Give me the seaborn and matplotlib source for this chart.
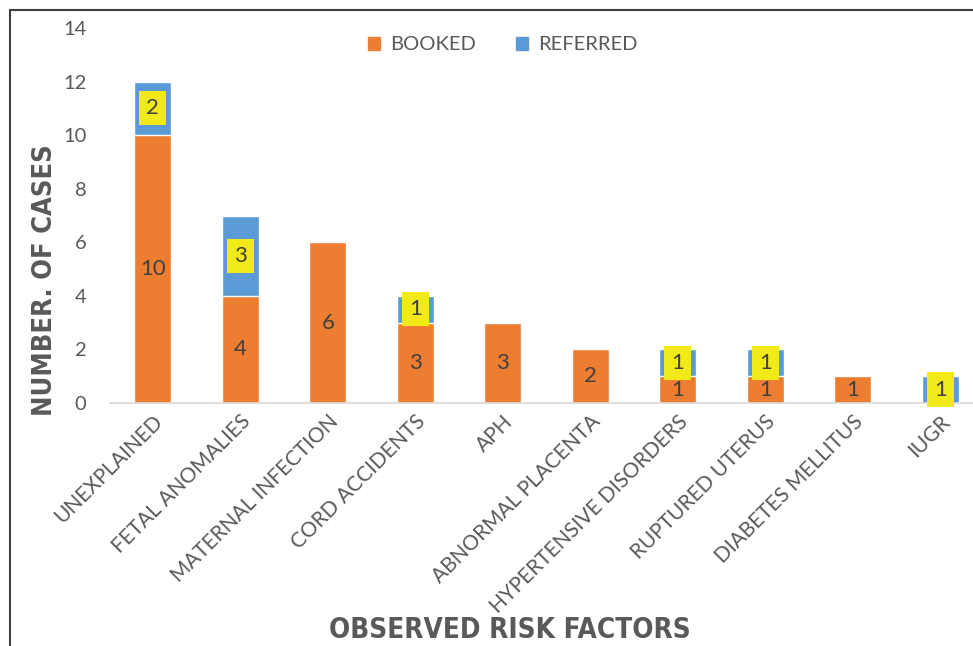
import numpy as np
import pandas as pd
import seaborn as sns
import matplotlib.pyplot as plt
from matplotlib.patches import Rectangle, Patch

# Data
factors = ['UNEXPLAINED', 'FETAL ANOMALIES', 'MATERNAL INFECTION', 'CORD ACCIDENTS', 'APH',
           'ABNORMAL PLACENTA', 'HYPERTENSIVE DISORDERS', 'RUPTURED UTERUS',
           'DIABETES MELLITUS', 'IUGR']
booked = [10, 4, 6, 3, 3, 2, 1, 1, 1, 0]
referred = [2, 3, 0, 1, 0, 0, 1, 1, 0, 1]
y_ticks = [0, 2, 4, 6, 8, 10, 12, 14]

ORANGE = '#ED7D31'
BLUE = '#5B9BD5'
YELLOW = '#F2EA18'
GREY = '#595959'

df = pd.DataFrame({'factor': factors, 'booked': booked, 'referred': referred})
df['total'] = df['booked'] + df['referred']

sns.set_theme(style='white')
plt.rcParams['font.family'] = ['Lato', 'DejaVu Sans']

fig = plt.figure(figsize=(9.73, 6.46), dpi=100)
ax = fig.add_axes([110 / 973, 1 - 403 / 646, 874 / 973, 375 / 646])

# stacked bars: totals in blue, booked drawn on top in orange
sns.barplot(data=df, x='factor', y='total', color=BLUE, width=0.42, saturation=1, ax=ax)
sns.barplot(data=df, x='factor', y='booked', color=ORANGE, width=0.42, saturation=1, ax=ax)

ax.set_ylim(0, 14)
ax.set_xlim(-0.49, len(factors) - 0.5)
ax.set_yticks(y_ticks)
ax.tick_params(axis='y', labelsize=14.5, labelcolor=GREY, length=0, pad=17)
ax.tick_params(axis='x', labelsize=15, labelcolor=GREY, length=0, pad=6)
ax.set_xticks(range(len(factors)))
ax.set_xticklabels(factors, rotation=45, ha='right', rotation_mode='anchor')
ax.set_xlabel('')
ax.set_ylabel('')
for s in ['top', 'right', 'left']:
    ax.spines[s].set_visible(False)
ax.spines['bottom'].set_color('#D9D9D9')
ax.spines['bottom'].set_linewidth(1.2)

# value labels
for i, (b, r) in enumerate(zip(booked, referred)):
    if b > 0:
        ax.text(i, b / 2, str(b), ha='center', va='center', fontsize=16, color='#404040')
    if r > 0:
        ax.text(i, b + r / 2, str(r), ha='center', va='center', fontsize=16, color='#404040',
                bbox=dict(boxstyle='square,pad=0.32', fc=YELLOW, ec='none'))

# legend
handles = [Patch(color=ORANGE, label='BOOKED'), Patch(color=BLUE, label='REFERRED')]
leg = fig.legend(handles=handles, loc='center', bbox_to_anchor=(503 / 973, 1 - 45 / 646),
                 ncol=2, frameon=False, fontsize=14.5, handlelength=0.6, handleheight=0.6,
                 handletextpad=0.5, columnspacing=2.0)
for t in leg.get_texts():
    t.set_color(GREY)

# axis titles
fig.text(45 / 973, 1 - 280 / 646, 'NUMBER. OF CASES', rotation=90, ha='center', va='center',
         fontsize=19.5, fontweight='bold', color=GREY, family='DejaVu Sans', stretch='condensed')
fig.text(510 / 973, 1 - 630 / 646, 'OBSERVED RISK FACTORS', ha='center', va='center',
         fontsize=20, fontweight='bold', color=GREY, family='DejaVu Sans', stretch='condensed')

# outer frame
fig.patches.append(Rectangle((10 / 973, -0.1), 1.2, 1 - 10 / 646 + 0.1, transform=fig.transFigure,
                             fill=False, ec='#404040', lw=1.5))

fig.savefig('out.png', dpi=100)
